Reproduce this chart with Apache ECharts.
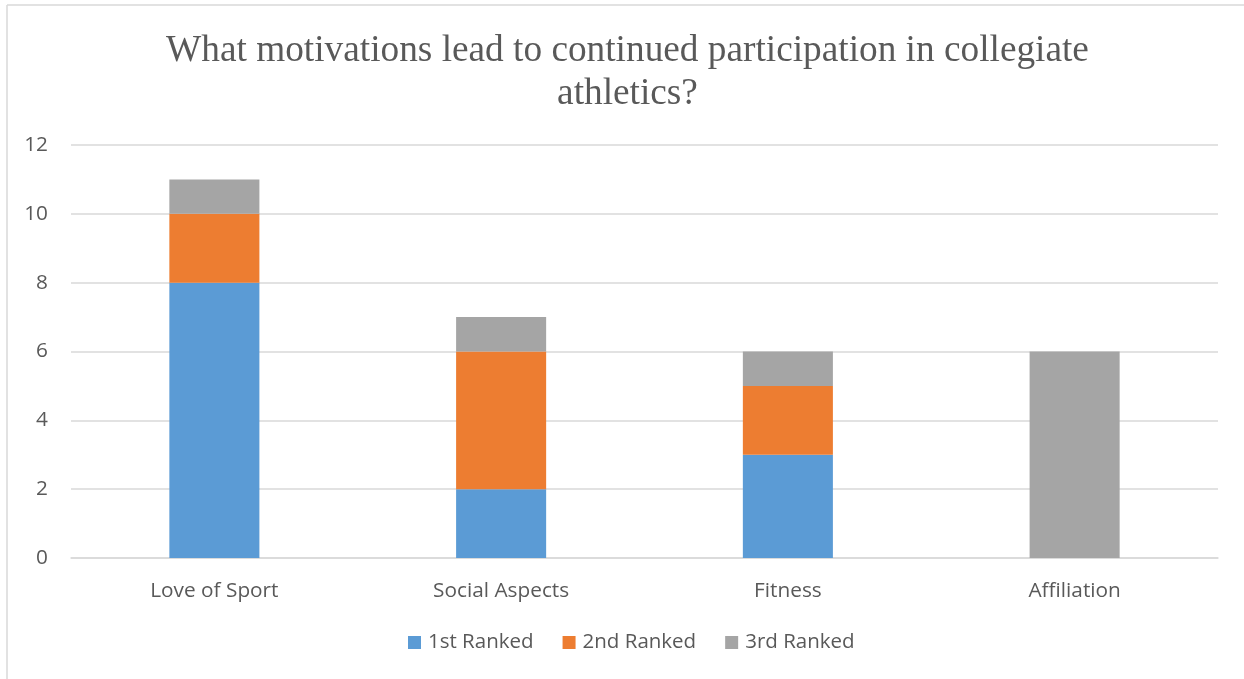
<!DOCTYPE html>
<html>
<head>
<meta charset="utf-8">
<script src="https://cdn.jsdelivr.net/npm/echarts@6/dist/echarts.min.js"></script>
<style>
html,body{margin:0;padding:0;background:#fff;}
#chart{width:1244px;height:679px;}
</style>
</head>
<body>
<div id="chart"></div>
<script>
const categories = ['Love of Sport', 'Social Aspects', 'Fitness', 'Affiliation'];
const seriesNames = ['1st Ranked', '2nd Ranked', '3rd Ranked'];
const firstRanked = [8, 2, 3, 0];
const secondRanked = [2, 4, 2, 0];
const thirdRanked = [1, 1, 1, 6];
const yTicks = [0, 2, 4, 6, 8, 10, 12];
const titleText = 'What motivations lead to continued participation in collegiate\nathletics?';

const colors = ['#5B9BD5', '#ED7D31', '#A5A5A5'];
const labelFont = '"Open Sans", "Noto Sans", sans-serif';

const chart = echarts.init(document.getElementById('chart'), null, {renderer: 'canvas'});
const values = [firstRanked, secondRanked, thirdRanked];

chart.setOption({
  animation: false,
  backgroundColor: '#fff',
  color: colors,
  title: {
    text: titleText,
    left: 622.5,
    textAlign: 'center',
    top: 25,
    textStyle: {
      fontFamily: '"Liberation Serif", "Times New Roman", serif',
      fontWeight: 'normal',
      fontSize: 37.3,
      lineHeight: 43,
      color: '#595959'
    }
  },
  legend: {
    data: seriesNames,
    left: 408,
    top: 632,
    padding: 0,
    itemWidth: 13,
    itemHeight: 13,
    itemGap: 29,
    icon: 'rect',
    textStyle: {fontFamily: labelFont, fontSize: 20.5, color: '#595959', padding: [0, 0, 0, 2]}
  },
  grid: {left: 71, right: 26, top: 145, bottom: 121, containLabel: false},
  xAxis: {
    type: 'category',
    data: categories,
    axisLine: {lineStyle: {color: '#D9D9D9', width: 1.5}},
    axisTick: {show: false},
    axisLabel: {fontFamily: labelFont, fontSize: 20.8, color: '#595959', margin: 23}
  },
  yAxis: {
    type: 'value',
    min: yTicks[0],
    max: yTicks[yTicks.length - 1],
    interval: 2,
    axisLine: {show: false},
    axisTick: {show: false},
    splitLine: {lineStyle: {color: '#D9D9D9', width: 1.5}},
    axisLabel: {fontFamily: labelFont, fontSize: 20.8, color: '#595959', margin: 23}
  },
  graphic: [
    {type: 'line', shape: {x1: 7, y1: 5, x2: 7, y2: 679}, style: {stroke: '#D9D9D9', lineWidth: 1.5}, silent: true},
    {type: 'line', shape: {x1: 7, y1: 5, x2: 1244, y2: 5}, style: {stroke: '#D9D9D9', lineWidth: 1.5}, silent: true}
  ],
  series: seriesNames.map((name, i) => ({
    name: name,
    type: 'bar',
    stack: 'total',
    barWidth: '31.4%',
    data: values[i],
    itemStyle: {color: colors[i]}
  }))
});
</script>
</body>
</html>
